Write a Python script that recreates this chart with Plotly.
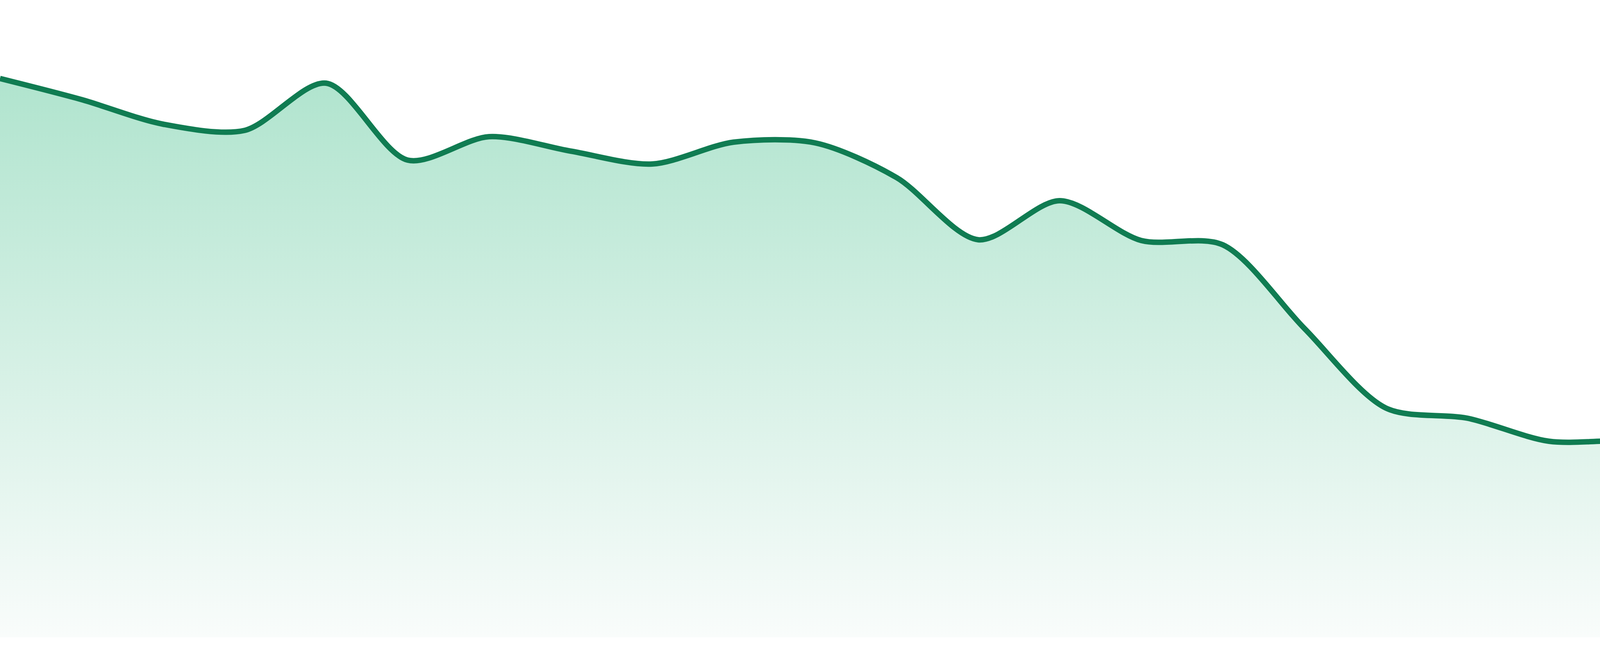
import plotly.graph_objects as go

# values, one per step
steps = list(range(24))
values = [143.1, 137.7, 131.4, 129.8, 141.9, 122.2, 128.2, 124.5,
          121.2, 126.8, 126.6, 117.7, 101.8, 111.8, 101.6, 100.5,
          79.1, 58.7, 56.1, 50.2, 50.2, 46.7, 50.9, 49.4]

line_color = '#107C52'
fill_top = 'rgb(176,228,206)'
fill_bottom = 'rgb(249,252,251)'

fig = go.Figure()
fig.add_trace(go.Scatter(x=steps, y=values,
                         mode='lines',
                         line=dict(color=line_color, width=14, shape='spline', smoothing=0.85),
                         fill='tozeroy',
                         fillgradient=dict(type='vertical',
                                           colorscale=[[0, fill_bottom], [1, fill_top]]),
                         hoverinfo='skip',
                         showlegend=False))

fig.update_layout(width=4800, height=1680,
                  margin=dict(l=0, r=0, t=0, b=48),
                  paper_bgcolor='white',
                  plot_bgcolor='white',
                  xaxis=dict(range=[0, 23], visible=False, fixedrange=True),
                  yaxis=dict(range=[0, 163.2], visible=False, fixedrange=True))

# page body has a default margin, drop it so the figure fills the window
fig.write_html('out.html', config={'displayModeBar': False},
               post_script="document.body.style.margin='0';document.body.style.overflow='hidden';")
